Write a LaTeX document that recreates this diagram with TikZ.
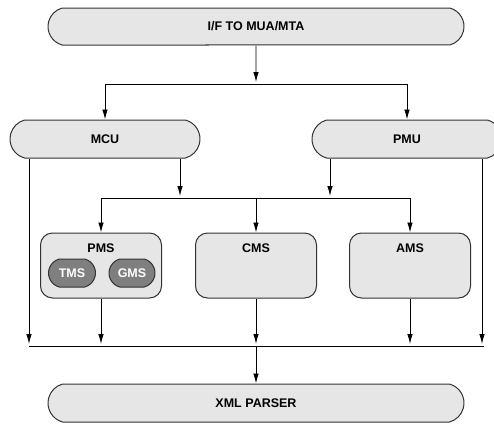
\documentclass[tikz,border=0pt]{standalone}
\usepackage{fontspec}
\setmainfont{Liberation Sans}
\usetikzlibrary{shapes.misc,arrows.meta}
\definecolor{boxgray}{HTML}{E6E6E6}
\definecolor{subgray}{HTML}{7F7F7F}
\definecolor{edgegray}{HTML}{333333}

\begin{document}
\begin{tikzpicture}[x=1pt,y=-1pt,
    font=\fontsize{12.5}{14}\selectfont\bfseries,
    pill/.style={rounded rectangle, rounded rectangle arc length=150, draw=edgegray, line width=1pt, fill=boxgray, inner sep=0pt, minimum height=38pt},
    subpill/.style={pill, fill=subgray, text=white, minimum width=47pt, minimum height=28pt},
    module/.style={draw=edgegray, line width=1pt, fill=boxgray, rounded corners=12pt, minimum width=121pt, minimum height=65pt, inner sep=0pt},
    line/.style={line width=0.9pt, -{Latex[length=10pt,width=5.5pt]}},
    tojoin/.style={line, shorten >=2pt},
    bar/.style={line width=0.9pt}]
        \clip (0,0) rectangle (494,423);

        \node[pill, minimum width=416pt, minimum height=37pt] (top) at (256,26.5) {I/F TO MUA/MTA};
        \node[pill, minimum width=190pt] (mcu) at (105,139) {MCU};
        \node[pill, minimum width=190pt] (pmu) at (407,139) {PMU};

        \node[module, label={[anchor=center,yshift=-16pt]north:PMS}] (pms) at (101,265.5) {};
        \node[module, label={[anchor=center,yshift=-16pt]north:CMS}] (cms) at (256,265.5) {};
        \node[module, label={[anchor=center,yshift=-16pt]north:AMS}] (ams) at (410,265.5) {};
        \node[subpill] (tms) at (72,273) {TMS};
        \node[subpill, minimum width=46pt] (gms) at (132,273) {GMS};

        \node[pill, minimum width=416pt] (xml) at (256,403) {XML PARSER};

        % splits
        \coordinate (split) at (256,84);
        \coordinate (mid) at (256,198);
        \coordinate (bus) at (256,346);

        \draw[tojoin] (top) -- (split);
        \draw[line] (split) -| (mcu.north);
        \draw[line] (split) -| (pmu.north);

        \draw[tojoin] ([xshift=75pt]mcu.south) -- ([xshift=75pt]mcu.south |- mid);
        \draw[tojoin] ([xshift=-77pt]pmu.south) -- ([xshift=-77pt]pmu.south |- mid);
        \draw[bar] (pms.north |- mid) -- (ams.north |- mid);
        \draw[line] (pms.north |- mid) -- (pms.north);
        \draw[line] (mid) -- (cms.north);
        \draw[line] (ams.north |- mid) -- (ams.north);

        \draw[tojoin] ([xshift=-76pt]mcu.south) -- ([xshift=-76pt]mcu.south |- bus);
        \draw[tojoin] ([xshift=75pt]pmu.south) -- ([xshift=75pt]pmu.south |- bus);
        \draw[tojoin] (pms.south) -- (pms.south |- bus);
        \draw[tojoin] (cms.south) -- (bus);
        \draw[tojoin] (ams.south) -- (ams.south |- bus);
        \draw[bar] ([xshift=-76pt]mcu.south |- bus) -- ([xshift=77pt]pmu.south |- bus);

        \draw[line] (bus) -- (xml.north);
    \end{tikzpicture}
\end{document}
